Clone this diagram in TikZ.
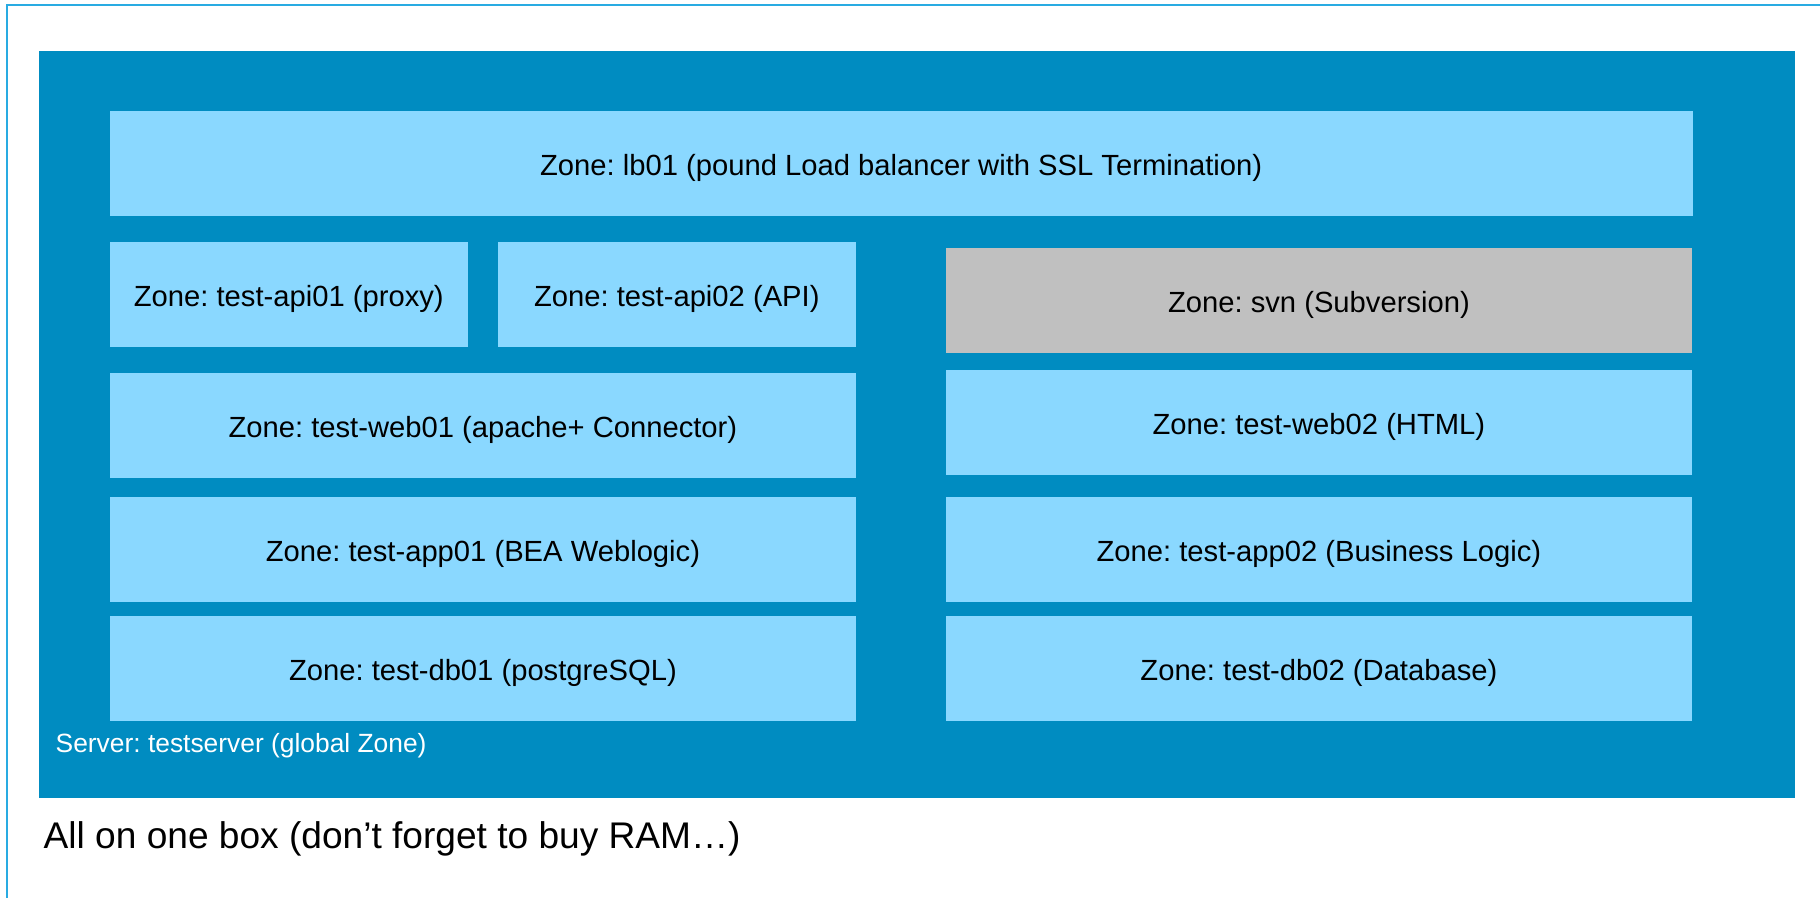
\documentclass[tikz,border=0pt]{standalone}
\usepackage{fontspec}
\setmainfont{Liberation Sans}
\usepackage{xcolor}
\usepackage{tikz}
\usetikzlibrary{positioning}
\definecolor{serverblue}{RGB}{0,140,193}
\definecolor{zoneblue}{RGB}{138,216,255}
\definecolor{zonegray}{RGB}{192,192,192}
\definecolor{framecyan}{RGB}{41,171,226}
\frenchspacing

\begin{document}
\begin{tikzpicture}[x=0.01cm, y=-0.01cm,
	zone/.style={rectangle, fill=zoneblue, anchor=north west, inner sep=0pt, minimum height=10.5mm, minimum width=74.6mm, text height=0.716em, text depth=0pt, font=\fontsize{8.3}{10}\selectfont},
	halfzone/.style={zone, minimum width=35.8mm}]
	\useasboundingbox (0,0) rectangle (1820,898);
	% frame
	\coordinate (fbl) at (7,898);
	\coordinate (ftl) at (7,5);
	\coordinate (ftr) at (1820,5);
	\draw[framecyan, line width=0.5pt] (fbl) -- (ftl) -- (ftr);
	% global zone
	\node[rectangle, fill=serverblue, anchor=north west, inner sep=0pt, minimum width=175.5mm, minimum height=74.7mm] (server) at (38,50) {};
	\node[anchor=base west, inner sep=0pt, text=white, font=\fontsize{7.5}{9}\selectfont] (serverlabel) at (55,753) {Server: testserver (global Zone)};
	% zones
	\node[zone, minimum width=158.2mm] (lb) at (109,110) {Zone: lb01 (pound Load balancer with SSL Termination)};
	\node[halfzone] (api1) at (109,241) {Zone: test-api01 (proxy)};
	\node[halfzone] (api2) at (497,241) {Zone: test-api02 (API)};
	\node[zone, fill=zonegray] (svn) at (945,247) {Zone: svn (Subversion)};
	\node[zone] (web1) at (109,372) {Zone: test-web01 (apache+ Connector)};
	\node[zone] (web2) at (945,369) {Zone: test-web02 (HTML)};
	\node[zone] (app1) at (109,496) {Zone: test-app01 (BEA Weblogic)};
	\node[zone] (app2) at (945,496) {Zone: test-app02 (Business Logic)};
	\node[zone] (db1) at (109,615) {Zone: test-db01 (postgreSQL)};
	\node[zone] (db2) at (945,615) {Zone: test-db02 (Database)};
	% caption
	\node[anchor=base west, inner sep=0pt, font=\fontsize{10.55}{13}\selectfont] (caption) at (43,849) {All on one box (don’t forget to buy RAM…)};
\end{tikzpicture}
\end{document}
